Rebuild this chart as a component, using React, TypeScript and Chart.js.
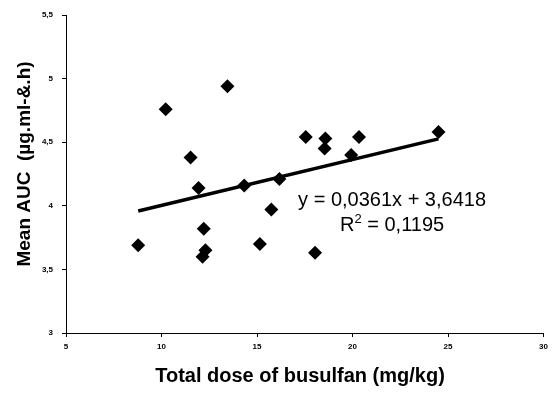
import React, { useEffect, useRef } from "react";
import { Chart, registerables } from "chart.js";

Chart.register(...registerables);

// Scatter data: total dose of busulfan (mg/kg) vs mean AUC
const doseValues = [8.78, 10.22, 11.52, 11.94, 12.21, 12.3, 12.15, 13.45, 14.33, 15.15, 15.75, 16.17, 17.55, 18.04, 18.58, 18.54, 19.93, 20.34, 24.5];
const aucValues = [3.69, 4.76, 4.38, 4.14, 3.82, 3.65, 3.6, 4.94, 4.16, 3.7, 3.97, 4.21, 4.54, 3.63, 4.53, 4.45, 4.4, 4.54, 4.58];

// Linear trend line endpoints (y = 0,0361x + 3,6418)
const trendX = [8.78, 24.5];
const trendY = [3.959, 4.526];

const equationLines = ["y = 0,0361x + 3,6418", "R2 = 0,1195"];
const xTitle = "Total dose of busulfan (mg/kg)";
const yTitle = "Mean AUC  (\u00b5g.ml-&.h)";

const X_MIN = 5, X_MAX = 30, X_STEP = 5;
const Y_MIN = 3, Y_MAX = 5.5, Y_STEP = 0.5;

const FONT = "'Liberation Sans', Arial, sans-serif";

const annotationPlugin = {
  id: "annot",
  afterDraw(chart: any) {
    const ctx = chart.ctx;
    const xs = chart.scales.x;
    const ys = chart.scales.y;
    const ca = chart.chartArea;
    ctx.save();
    ctx.fillStyle = "#000";
    // equation
    ctx.font = `20px ${FONT}`;
    ctx.textAlign = "center";
    ctx.textBaseline = "alphabetic";
    const cx = xs.getPixelForValue(22.07);
    const y1 = ys.getPixelForValue(3.998);
    ctx.fillText(equationLines[0], cx, y1);
    // R² line with superscript
    const y2 = ys.getPixelForValue(3.801);
    const rText = "R";
    const sup = "2";
    const rest = " = 0,1195";
    const wR = ctx.measureText(rText).width;
    ctx.font = `13px ${FONT}`;
    const wS = ctx.measureText(sup).width;
    ctx.font = `20px ${FONT}`;
    const wRest = ctx.measureText(rest).width;
    const total = wR + wS + wRest;
    let sx = cx - total / 2;
    ctx.textAlign = "left";
    ctx.fillText(rText, sx, y2);
    sx += wR;
    ctx.font = `13px ${FONT}`;
    ctx.fillText(sup, sx, y2 - 8);
    sx += wS;
    ctx.font = `20px ${FONT}`;
    ctx.fillText(rest, sx, y2);

    // axis titles
    ctx.font = `bold 20px ${FONT}`;
    ctx.textAlign = "center";
    ctx.textBaseline = "middle";
    ctx.fillText(xTitle, 300, 376);

    ctx.font = `bold 19px ${FONT}`;
    ctx.translate(25, 164);
    ctx.rotate(-Math.PI / 2);
    ctx.fillText(yTitle, 0, 0);
    ctx.restore();
  },
};

export default function App() {
  const ref = useRef<HTMLCanvasElement | null>(null);
  useEffect(() => {
    document.body.style.margin = "0";
    const canvas = ref.current!;
    const chart = new Chart(canvas, {
      type: "scatter",
      data: {
        datasets: [
          {
            type: "line",
            label: "trend",
            data: trendX.map((x, i) => ({ x, y: trendY[i] })),
            borderColor: "#000",
            borderWidth: 3.5,
            pointRadius: 0,
            fill: false,
            order: 0,
          } as any,
          {
            label: "AUC",
            data: doseValues.map((x, i) => ({ x, y: aucValues[i] })),
            pointStyle: "rectRot",
            pointRadius: 7,
            backgroundColor: "#000",
            borderColor: "#000",
            borderWidth: 0,
            order: 1,
          },
        ],
      },
      options: {
        responsive: false,
        animation: false,
        layout: { padding: { top: 15, right: 6, left: 0, bottom: 0 } },
        plugins: {
          legend: { display: false },
          tooltip: { enabled: false },
        },
        scales: {
          x: {
            type: "linear",
            min: X_MIN,
            max: X_MAX,
            afterFit: (s: any) => { s.height = 63; },
            ticks: {
              stepSize: X_STEP,
              color: "#000",
              padding: 5,
              maxRotation: 0,
              font: { family: FONT, size: 8, weight: "bold" },
            },
            grid: { display: true, drawOnChartArea: false, drawTicks: true, tickLength: 4, color: "#000", lineWidth: 1 },
            border: { display: true, color: "#000", width: 1 },
          },
          y: {
            type: "linear",
            min: Y_MIN,
            max: Y_MAX,
            afterFit: (s: any) => { s.width = 66; },
            ticks: {
              stepSize: Y_STEP,
              color: "#000",
              padding: 9,
              font: { family: FONT, size: 8, weight: "bold" },
              callback: (v: any) => String(v).replace(".", ","),
            },
            grid: { display: true, drawOnChartArea: false, drawTicks: true, tickLength: 4, color: "#000", lineWidth: 1 },
            border: { display: true, color: "#000", width: 1 },
          },
        },
      },
      plugins: [annotationPlugin],
    });
    return () => chart.destroy();
  }, []);
  return (
    <div style={{ width: 553, height: 396, background: "#fff" }}>
      <canvas ref={ref} width={553} height={396} style={{ display: "block" }} />
    </div>
  );
}
